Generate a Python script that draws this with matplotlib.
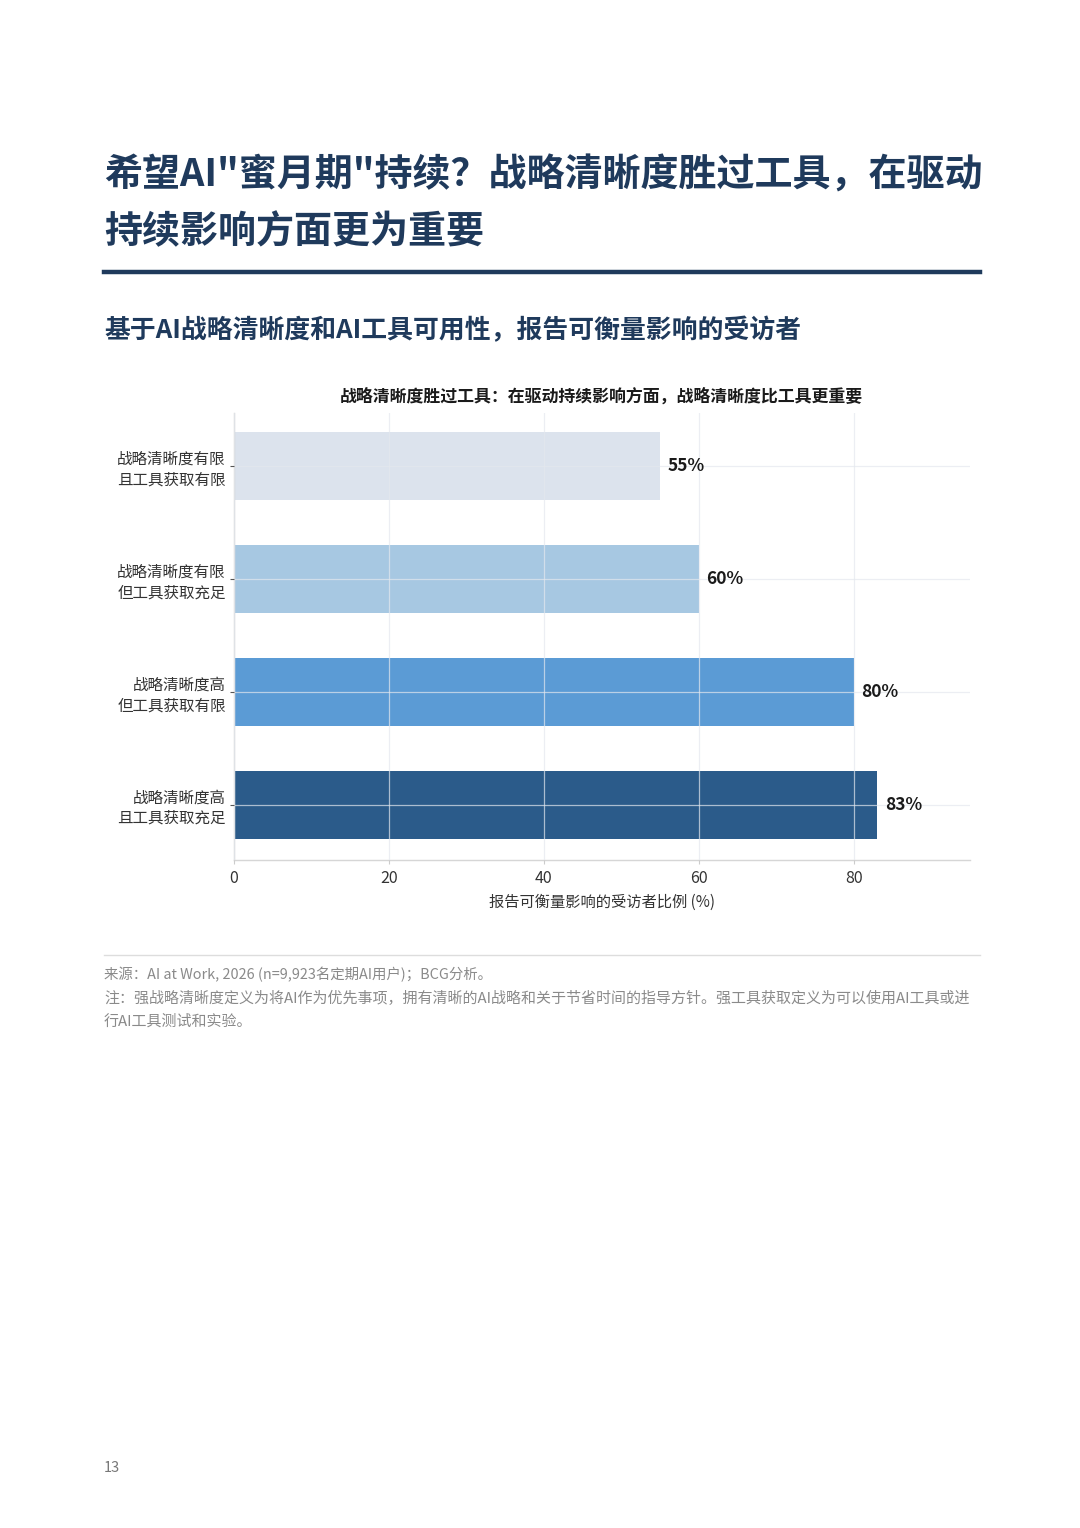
import matplotlib
matplotlib.use("Agg")
import matplotlib.pyplot as plt
from matplotlib.lines import Line2D

plt.rcParams['font.family'] = ['Noto Sans CJK SC', 'DejaVu Sans']

# ── data ───────────────────────────────────────────────────────────────────────
categories = [
    "战略清晰度有限\n且工具获取有限",
    "战略清晰度有限\n但工具获取充足",
    "战略清晰度高\n但工具获取有限",
    "战略清晰度高\n且工具获取充足",
]
values = [55, 60, 80, 83]
bar_colors = ["#dce3ed", "#a7c8e2", "#5b9bd5", "#2b5b8a"]
x_ticks = [0, 20, 40, 60, 80]

TITLE_1 = "希望AI\"蜜月期\"持续？战略清晰度胜过工具，在驱动"
TITLE_2 = "持续影响方面更为重要"
SUBTITLE = "基于AI战略清晰度和AI工具可用性，报告可衡量影响的受访者"
CHART_TITLE = "战略清晰度胜过工具：在驱动持续影响方面，战略清晰度比工具更重要"
X_LABEL = "报告可衡量影响的受访者比例 (%)"
SOURCE = "来源：AI at Work, 2026 (n=9,923名定期AI用户)；BCG分析。"
NOTE_1 = "注：强战略清晰度定义为将AI作为优先事项，拥有清晰的AI战略和关于节省时间的指导方针。强工具获取定义为可以使用AI工具或进"
NOTE_2 = "行AI工具测试和实验。"
PAGE_NO = "13"

NAVY = "#1f3a5c"
W, H = 1080, 1528


def fx(px):
    return px / W


def fy(py):
    return 1 - py / H


fig = plt.figure(figsize=(W / 100, H / 100), dpi=100)
fig.patch.set_facecolor("white")

# ── headings ───────────────────────────────────────────────────────────────────
fig.text(fx(104), fy(175), TITLE_1, fontsize=27.4, fontweight="bold", color=NAVY,
         ha="left", va="center")
fig.text(fx(104), fy(232), TITLE_2, fontsize=27.4, fontweight="bold", color=NAVY,
         ha="left", va="center")
fig.add_artist(Line2D([fx(104), fx(980)], [fy(272), fy(272)],
                      color=NAVY, linewidth=3.2, transform=fig.transFigure))
fig.text(fx(104), fy(331), SUBTITLE, fontsize=18.6, fontweight="bold", color=NAVY,
         ha="left", va="center")

# ── chart ──────────────────────────────────────────────────────────────────────
ax = fig.add_axes([fx(234), fy(860), fx(970) - fx(234), (860 - 413) / H])
ypos = list(range(len(categories)))
ax.barh(ypos, values, height=0.6, color=bar_colors, zorder=1)
ax.set_xlim(0, 95)
ax.set_ylim(3.49, -0.47)
ax.set_yticks(ypos)
ax.set_yticklabels(categories, fontsize=11.2, color="#333333", linespacing=1.25)
ax.set_xticks(x_ticks)
ax.set_xticklabels([str(t) for t in x_ticks], fontsize=11.5, color="#333333")
ax.set_xlabel(X_LABEL, fontsize=11, color="#333333", labelpad=5)
ax.tick_params(axis="y", length=3, width=0.8, color="#555555", pad=3)
ax.tick_params(axis="x", length=3, width=0.8, color="#cccccc", pad=4)

ax.set_axisbelow(False)
ax.grid(True, color="#e4e8ee", linewidth=0.9, alpha=0.7, zorder=2)
for side in ("top", "right"):
    ax.spines[side].set_visible(False)
for side in ("left", "bottom"):
    ax.spines[side].set_color("#d6d6d6")
    ax.spines[side].set_linewidth(1.0)

for y, v in zip(ypos, values):
    ax.text(v + 1, y, f"{v}%", fontsize=12.5, fontweight="bold",
            color="#1a1a1a", ha="left", va="center", zorder=3)

fig.text(fx(601), fy(397), CHART_TITLE, fontsize=12.2, fontweight="bold",
         color="#1a1a1a", ha="center", va="center")

# ── footnotes ──────────────────────────────────────────────────────────────────
fig.add_artist(Line2D([fx(104), fx(980)], [fy(955), fy(955)],
                      color="#dddddd", linewidth=1.0, transform=fig.transFigure))
fig.text(fx(104), fy(975), SOURCE, fontsize=10.4, color="#8a8a8a",
         ha="left", va="center")
for py, txt in [(998, NOTE_1), (1021, NOTE_2)]:
    fig.text(fx(104), fy(py), txt, fontsize=10.8, color="#8a8a8a",
             ha="left", va="center")
fig.text(fx(104), fy(1468), PAGE_NO, fontsize=10.5, color="#777777",
         ha="left", va="center")

fig.savefig("out.png", dpi=100, facecolor="white")
